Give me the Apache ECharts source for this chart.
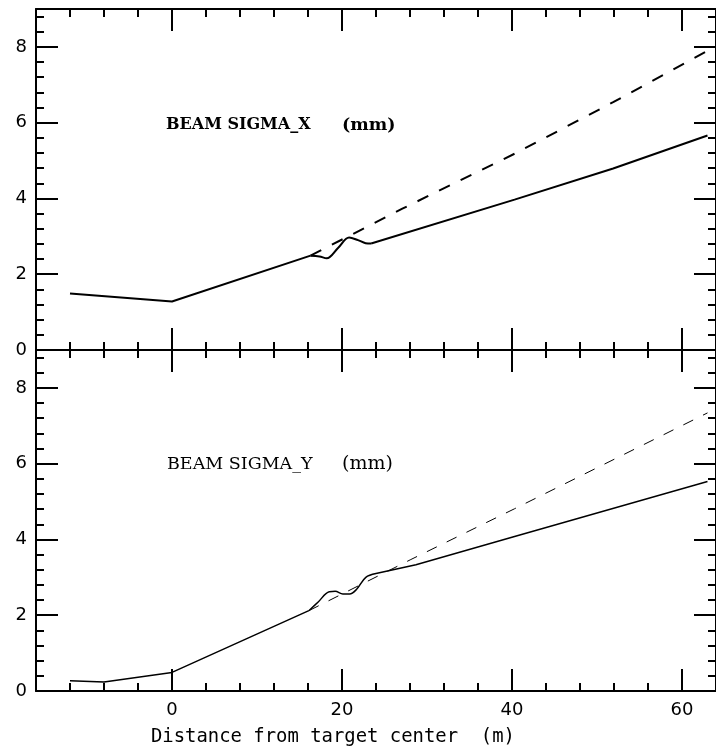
<!DOCTYPE html>
<html>
<head>
<meta charset="utf-8">
<script src="https://cdn.jsdelivr.net/npm/echarts@6/dist/echarts.min.js"></script>
<style>
html,body{margin:0;padding:0;background:#fff;}
#chart{width:716px;height:752px;}
</style>
</head>
<body>
<div id="chart"></div>
<script>
// ---- data ----
const xMajorTicks = [0, 20, 40, 60];
const xMinorTicks = [-12, -8, -4, 4, 8, 12, 16, 24, 28, 32, 36, 44, 48, 52, 56];
const yMajorTicks = [0, 2, 4, 6, 8];
const yMinorTicks = [0.4, 0.8, 1.2, 1.6, 2.4, 2.8, 3.2, 3.6, 4.4, 4.8, 5.2, 5.6, 6.4, 6.8, 7.2, 7.6, 8.4, 8.8];

// top panel: BEAM SIGMA_X
const sigmaXSolidLeft = [[-12, 1.49], [0, 1.28], [16.3, 2.49]];
const sigmaXSolidWiggle = [[16.3, 2.49], [17.35, 2.47], [18.2, 2.42], [19.56, 2.70], [20.84, 2.97], [21.88, 2.90], [22.78, 2.82], [23.43, 2.81]];
const sigmaXSolidRight = [[23.43, 2.81], [40.3, 3.97], [51.9, 4.79], [63, 5.66]];
const sigmaXDashed = [[16.3, 2.49], [27.1, 3.73], [40.3, 5.18], [51.9, 6.54], [63, 7.9]];

// bottom panel: BEAM SIGMA_Y
const sigmaYSolidLeft = [[-12, 0.27], [-8, 0.24], [0, 0.49], [16.1, 2.12]];
const sigmaYSolidWiggle = [[16.1, 2.12], [17.2, 2.35], [18.5, 2.62], [19.2, 2.63], [20.1, 2.56], [20.9, 2.56], [21.7, 2.68], [22.8, 3.0], [24.0, 3.10]];
const sigmaYSolidRight = [[24.0, 3.10], [28.7, 3.33], [40.3, 4.08], [63, 5.53]];
const sigmaYDashed = [[16.1, 2.12], [28.1, 3.47], [40.3, 4.81], [63, 7.34]];

const panelTitles = ['BEAM SIGMA_X', 'BEAM SIGMA_Y'];
const unitText = '(mm)';
const xTitle = 'Distance from target center  (m)';

// ---- chart ----
const chart = echarts.init(document.getElementById('chart'), null, {renderer: 'canvas'});
const BLACK = '#000';
const grids = [
  {left: 36, top: 9, width: 688, height: 341},
  {left: 36, top: 350, width: 688, height: 341}
];

function makeX(g, pos, ticks, len, showLine, labels) {
  return {
    type: 'value', gridIndex: g, position: pos, min: -16, max: 64,
    axisLine: {show: showLine, onZero: false, lineStyle: {color: BLACK, width: 2}},
    axisTick: {show: true, inside: true, length: len, customValues: ticks, lineStyle: {color: BLACK, width: 2}},
    axisLabel: labels ? {show: true, customValues: xMajorTicks, color: BLACK, fontFamily: 'DejaVu Sans', fontSize: 18, margin: 10} : {show: false},
    splitLine: {show: false}
  };
}
function makeY(g, pos, ticks, len, showLine, labels) {
  return {
    type: 'value', gridIndex: g, position: pos, min: 0, max: 9,
    axisLine: {show: showLine, onZero: false, lineStyle: {color: BLACK, width: 2}},
    axisTick: {show: true, inside: true, length: len, customValues: ticks, lineStyle: {color: BLACK, width: 2}},
    axisLabel: labels ? {show: true, customValues: yMajorTicks, color: BLACK, fontFamily: 'DejaVu Sans', fontSize: 18, margin: 9} : {show: false},
    splitLine: {show: false}
  };
}

const xAxes = [], yAxes = [];
for (let g = 0; g < 2; g++) {
  xAxes.push(makeX(g, 'bottom', xMajorTicks, 22, true, g === 1));
  xAxes.push(makeX(g, 'bottom', xMinorTicks, 8, false, false));
  xAxes.push(makeX(g, 'top', xMajorTicks, 22, true, false));
  xAxes.push(makeX(g, 'top', xMinorTicks, 8, false, false));
  yAxes.push(makeY(g, 'left', yMajorTicks, 22, true, true));
  yAxes.push(makeY(g, 'left', yMinorTicks, 8, false, false));
  yAxes.push(makeY(g, 'right', yMajorTicks, 22, true, false));
  yAxes.push(makeY(g, 'right', yMinorTicks, 8, false, false));
}

function line(g, data, width, dash, smooth) {
  return {
    type: 'line', xAxisIndex: g * 4, yAxisIndex: g * 4, data: data,
    symbol: 'none', smooth: smooth ? 0.35 : false, silent: true,
    lineStyle: {color: BLACK, width: width, type: dash ? dash : 'solid'}
  };
}

chart.setOption({
  animation: false,
  backgroundColor: '#fff',
  grid: grids,
  xAxis: xAxes,
  yAxis: yAxes,
  title: [
    {text: panelTitles[0], left: 166, top: 117, padding: 0,
     textStyle: {fontFamily: 'DejaVu Serif', fontWeight: 'bold', fontSize: 16, color: BLACK}},
    {text: unitText, left: 342, top: 116, padding: 0,
     textStyle: {fontFamily: 'DejaVu Serif', fontWeight: 'bold', fontSize: 17.5, color: BLACK}},
    {text: panelTitles[1], left: 167, top: 455, padding: 0,
     textStyle: {fontFamily: 'DejaVu Serif', fontWeight: 'normal', fontSize: 17.5, color: BLACK}},
    {text: unitText, left: 342, top: 455, padding: 0,
     textStyle: {fontFamily: 'DejaVu Serif', fontWeight: 'normal', fontSize: 19, color: BLACK}},
    {text: xTitle, left: 151, top: 728, padding: 0,
     textStyle: {fontFamily: 'DejaVu Sans Mono', fontWeight: 'normal', fontSize: 18.9, color: BLACK}}
  ],
  series: [
    line(0, sigmaXSolidLeft, 2, null, false),
    line(0, sigmaXSolidWiggle, 2, null, true),
    line(0, sigmaXSolidRight, 2, null, false),
    line(0, sigmaXDashed, 2, [12, 12], false),
    line(1, sigmaYSolidLeft, 1.5, null, false),
    line(1, sigmaYSolidWiggle, 1.5, null, true),
    line(1, sigmaYSolidRight, 1.5, null, false),
    line(1, sigmaYDashed, 1, [11, 11], false)
  ]
});
</script>
</body>
</html>
